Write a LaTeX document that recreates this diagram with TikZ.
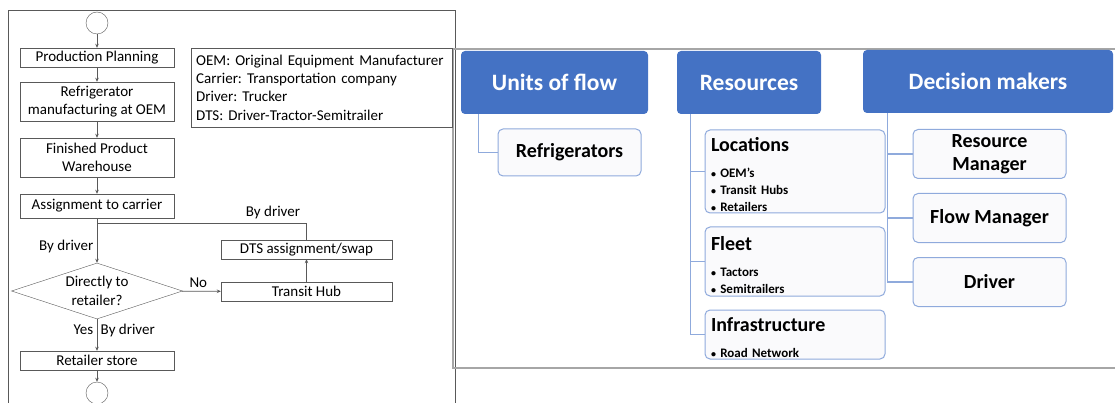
\documentclass[tikz,border=0pt]{standalone}
\usepackage{fontspec}
\setmainfont{Carlito}
\frenchspacing
\usetikzlibrary{arrows.meta, positioning, shapes.geometric}

\definecolor{hdrblue}{HTML}{4472C4}
\definecolor{itemline}{HTML}{8FAADC}
\definecolor{itemfill}{HTML}{FAFAFC}
\definecolor{flowline}{HTML}{595959}
\definecolor{framegray}{HTML}{A6A6A6}
\newcommand{\dotitem}{{\fontsize{10}{17}\selectfont\textbullet}\ }

\begin{document}
\begin{tikzpicture}[x=1pt, y=-1pt,
    flowbox/.style={draw=flowline, minimum width=154pt, minimum height=19pt, inner sep=0pt,
                    align=center, font=\fontsize{15}{18.5}\selectfont},
    terminal/.style={draw=flowline, circle, minimum size=22pt, inner sep=0pt},
    flow/.style={draw=flowline, line width=0.8pt, -{Stealth[length=4pt, width=3.5pt]}},
    flowtext/.style={font=\fontsize{15}{18}\selectfont},
    header/.style={fill=hdrblue, rounded corners=4pt, text=white, inner sep=0pt,
                   minimum height=63pt, font=\fontsize{23.5}{26}\selectfont\bfseries},
    itembox/.style={draw=itemline, fill=itemfill, line width=1pt, rounded corners=5pt, inner sep=0pt,
                    align=center, minimum width=153pt, minimum height=49pt,
                    font=\fontsize{20}{23}\selectfont\bfseries},
    groupbox/.style={draw=itemline, fill=itemfill, line width=1pt, rounded corners=5pt,
                     inner xsep=6pt, inner ysep=0pt, text width=168pt, align=left,
                     minimum width=180pt, font=\fontsize{13}{17}\selectfont\bfseries},
    conn/.style={draw=itemline, line width=1.2pt}]
    \useasboundingbox (0,0) rectangle (1115,403);

    % frames
    \draw[flowline, line width=0.8pt] (8,403) |- (455,10) -- (455,403);
    \draw[framegray, line width=1.2pt] (1115,49) -| (453,368) -- (1115,368);

    % flowchart
    \node[terminal]                  (Start)    at (97,23)    {};
    \node[flowbox]                   (Planning) at (97,57.5)  {Production Planning};
    \node[flowbox, minimum height=39pt] (Making) at (97,101.5) {Refrigerator\\manufacturing at OEM};
    \node[flowbox, minimum height=39pt] (Warehouse) at (97,157.5) {Finished Product\\Warehouse};
    \node[flowbox, minimum height=24pt] (Carrier) at (97,206) {Assignment to carrier};
    \node[draw=flowline, diamond, aspect=3, minimum width=171pt, minimum height=56pt, inner sep=0pt,
          align=center, font=\fontsize{15}{19}\selectfont] (Direct) at (97,291) {Directly to\\retailer?};
    \node[flowbox, minimum width=171pt] (Hub)  at (306.5,291.5) {Transit Hub};
    \node[flowbox, minimum width=171pt] (Swap) at (306.5,249.5) {DTS assignment/swap};
    \node[flowbox]                   (Store)    at (97,360.5) {Retailer store};
    \node[terminal]                  (End)      at (97,393)   {};
    \coordinate (Join) at (97,223);

    \draw[flow] (Start) -- (Planning);
    \draw[flow] (Planning) -- (Making);
    \draw[flow] (Making) -- (Warehouse);
    \draw[flow] (Warehouse) -- (Carrier);
    \draw[flow] (Carrier) -- node[flowtext, left, pos=0.64] {By driver} (Direct);
    \draw[draw=flowline, line width=0.8pt] (Swap.north) |- node[flowtext, above, pos=0.58] {By driver} (Join);
    \draw[flow] (Direct) -- node[flowtext, above, pos=0.42] {No} (Hub);
    \draw[flow] (Hub) -- (Swap);
    \draw[flow] (Direct) -- node[flowtext, left, pos=0.33] {Yes}
                            node[flowtext, right, pos=0.36] {By driver} (Store);
    \draw[flow] (Store) -- (End);

    % legend
    \node[draw=flowline, anchor=north west, minimum width=261pt, minimum height=79pt,
          text width=251pt, inner xsep=5pt, align=left, font=\fontsize{15}{18.3}\selectfont]
          (Legend) at (191,48)
          {OEM: Original Equipment Manufacturer\\Carrier: Transportation company\\Driver: Trucker\\DTS: Driver-Tractor-Semitrailer};

    % hierarchy
    \node[header, minimum width=187pt] (Units)     at (554.5,82.5) {Units of flow};
    \node[header, minimum width=144pt] (Resources) at (749,82.5)   {Resources};
    \node[header, minimum width=250pt] (Deciders)  at (988,81.5)   {Decision makers};

    \node[itembox, minimum width=143pt, minimum height=47pt] (Fridges) at (569.5,152.5) {Refrigerators};

    \node[groupbox, minimum height=83pt] (Locations) at (795,171.5)
        {\rule{0pt}{21pt}{\fontsize{20}{22}\selectfont Locations}\\[9pt]\dotitem OEM’s\\\dotitem Transit Hubs\\\dotitem Retailers};
    \node[groupbox, minimum height=69pt] (Fleet) at (795,261.5)
        {\rule{0pt}{21pt}{\fontsize{20}{22}\selectfont Fleet}\\[9pt]\dotitem Tactors\\\dotitem Semitrailers};
    \node[groupbox, minimum height=49pt] (Infra) at (795,334.5)
        {\rule{0pt}{21pt}{\fontsize{20}{22}\selectfont Infrastructure}\\[9pt]\dotitem Road Network};

    \node[itembox] (ResMgr)  at (989.5,154)   {Resource\\Manager};
    \node[itembox] (FlowMgr) at (989.5,218)   {Flow Manager};
    \node[itembox] (Driver)  at (989.5,282)   {Driver};

    \draw[conn] ([xshift=18pt]Units.south west) |- (Fridges.west);
    \draw[conn] ([xshift=14pt]Resources.south west) |- (Infra.west);
    \draw[conn] ([xshift=14pt]Resources.south west) |- (Locations.west);
    \draw[conn] ([xshift=14pt]Resources.south west) |- (Fleet.west);
    \draw[conn] ([xshift=25pt]Deciders.south west) |- (Driver.west);
    \draw[conn] ([xshift=25pt]Deciders.south west) |- (ResMgr.west);
    \draw[conn] ([xshift=25pt]Deciders.south west) |- (FlowMgr.west);
\end{tikzpicture}
\end{document}
